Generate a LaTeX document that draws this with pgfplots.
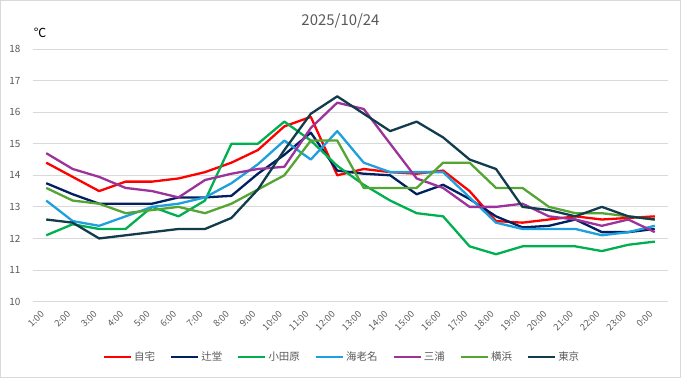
\documentclass[border=0pt]{standalone}
\usepackage{pgfplots}
\usepackage{pgfplotstable}
\pgfplotsset{compat=1.18}
\usepackage{fontspec}
\setmainfont{Noto Sans CJK JP}
\definecolor{txt}{HTML}{595959}
\definecolor{grd}{HTML}{D9D9D9}
\definecolor{cJitaku}{HTML}{FF0000}
\definecolor{cTsuji}{HTML}{002060}
\definecolor{cOdawara}{HTML}{00B050}
\definecolor{cEbina}{HTML}{1EA0DC}
\definecolor{cMiura}{HTML}{9B339B}
\definecolor{cYoko}{HTML}{54A533}
\definecolor{cTokyo}{HTML}{123B4C}
\pgfplotstableread{
x jitaku tsuji odawara ebina miura yoko tokyo
0  14.4  13.75 12.1  13.2  14.7  13.6  12.6
1  13.95 13.4  12.45 12.55 14.2  13.2  12.5
2  13.5  13.1  12.3  12.4  13.95 13.1  12.0
3  13.8  13.1  12.3  12.7  13.6  12.8  12.1
4  13.8  13.1  13.0  13.0  13.5  12.9  12.2
5  13.9  13.3  12.7  13.1  13.3  13.0  12.3
6  14.1  13.3  13.2  13.3  13.85 12.8  12.3
7  14.4  13.35 15.0  13.75 14.05 13.1  12.65
8  14.8  14.05 15.0  14.35 14.2  13.55 13.55
9  15.55 14.65 15.7  15.1  14.27 14.0  14.8
10 15.85 15.35 15.1  14.5  15.5  15.1  15.95
11 14.0  14.15 14.3  15.4  16.3  15.1  16.5
12 14.2  14.05 13.7  14.4  16.1  13.6  15.95
13 14.1  14.0  13.2  14.1  15.0  13.6  15.4
14 14.05 13.4  12.8  14.1  13.9  13.6  15.7
15 14.15 13.7  12.7  14.1  13.6  14.4  15.2
16 13.5  13.25 11.75 13.3  13.0  14.4  14.5
17 12.55 12.7  11.5  12.5  13.0  13.6  14.2
18 12.5  12.35 11.75 12.3  13.1  13.6  13.0
19 12.6  12.4  11.75 12.3  12.7  13.0  12.9
20 12.7  12.6  11.75 12.3  12.6  12.8  12.7
21 12.6  12.2  11.6  12.1  12.4  12.8  13.0
22 12.65 12.2  11.8  12.2  12.6  12.7  12.7
23 12.7  12.3  11.9  12.4  12.2  12.6  12.6
}\datatable
\begin{document}
\begin{tikzpicture}
\useasboundingbox (0,0) rectangle (681bp,378bp);
\draw[grd, line width=0.8bp] (0.4bp,0.4bp) rectangle (680.6bp,377.6bp);
\node[text=txt, font=\fontsize{15}{16}\selectfont] at (340.5bp,357bp) {2025/10/24};
\node[text=black, font=\fontsize{12.5}{13}\selectfont] at (40bp,345bp) {℃};
\begin{axis}[
  at={(33bp,76.4bp)}, anchor=south west,
  scale only axis, width=635bp, height=252.6bp,
  xmin=-0.5, xmax=23.5, ymin=10, ymax=18,
  axis line style={draw=none},
  ytick={10,11,...,18},
  xtick={0,...,23},
  xticklabels={1:00,2:00,3:00,4:00,5:00,6:00,7:00,8:00,9:00,10:00,11:00,12:00,13:00,14:00,15:00,16:00,17:00,18:00,19:00,20:00,21:00,22:00,23:00,0:00},
  ymajorgrids, grid style={grd, line width=0.8bp},
  major tick length=0pt,
  /pgf/number format/assume math mode=true,
  yticklabel style={text=txt, font=\fontsize{10}{11}\selectfont, anchor=east, xshift=-9bp},
  xticklabel style={text=txt, font=\fontsize{9.3}{10}\selectfont, rotate=45, anchor=east, xshift=-7bp, yshift=-5bp},
  every axis plot/.append style={line width=2.3bp, line join=round, mark=none},
  legend columns=-1,
  legend style={at={(0.4866,-0.2193)}, anchor=center, draw=none, fill=none,
    font=\fontsize{10.5}{12}\selectfont, text=txt,
    /tikz/every even column/.append style={column sep=13bp},
    inner sep=0pt},
  legend cell align=left,
  legend image code/.code={\draw[#1] (0bp,0bp) -- (27bp,0bp);},
]
\addplot[cJitaku] table[x=x,y=jitaku] {\datatable};
\addplot[cTsuji] table[x=x,y=tsuji] {\datatable};
\addplot[cOdawara] table[x=x,y=odawara] {\datatable};
\addplot[cEbina] table[x=x,y=ebina] {\datatable};
\addplot[cMiura] table[x=x,y=miura] {\datatable};
\addplot[cYoko] table[x=x,y=yoko] {\datatable};
\addplot[cTokyo] table[x=x,y=tokyo] {\datatable};
\legend{自宅,辻堂,小田原,海老名,三浦,横浜,東京}
\end{axis}
\end{tikzpicture}
\end{document}
